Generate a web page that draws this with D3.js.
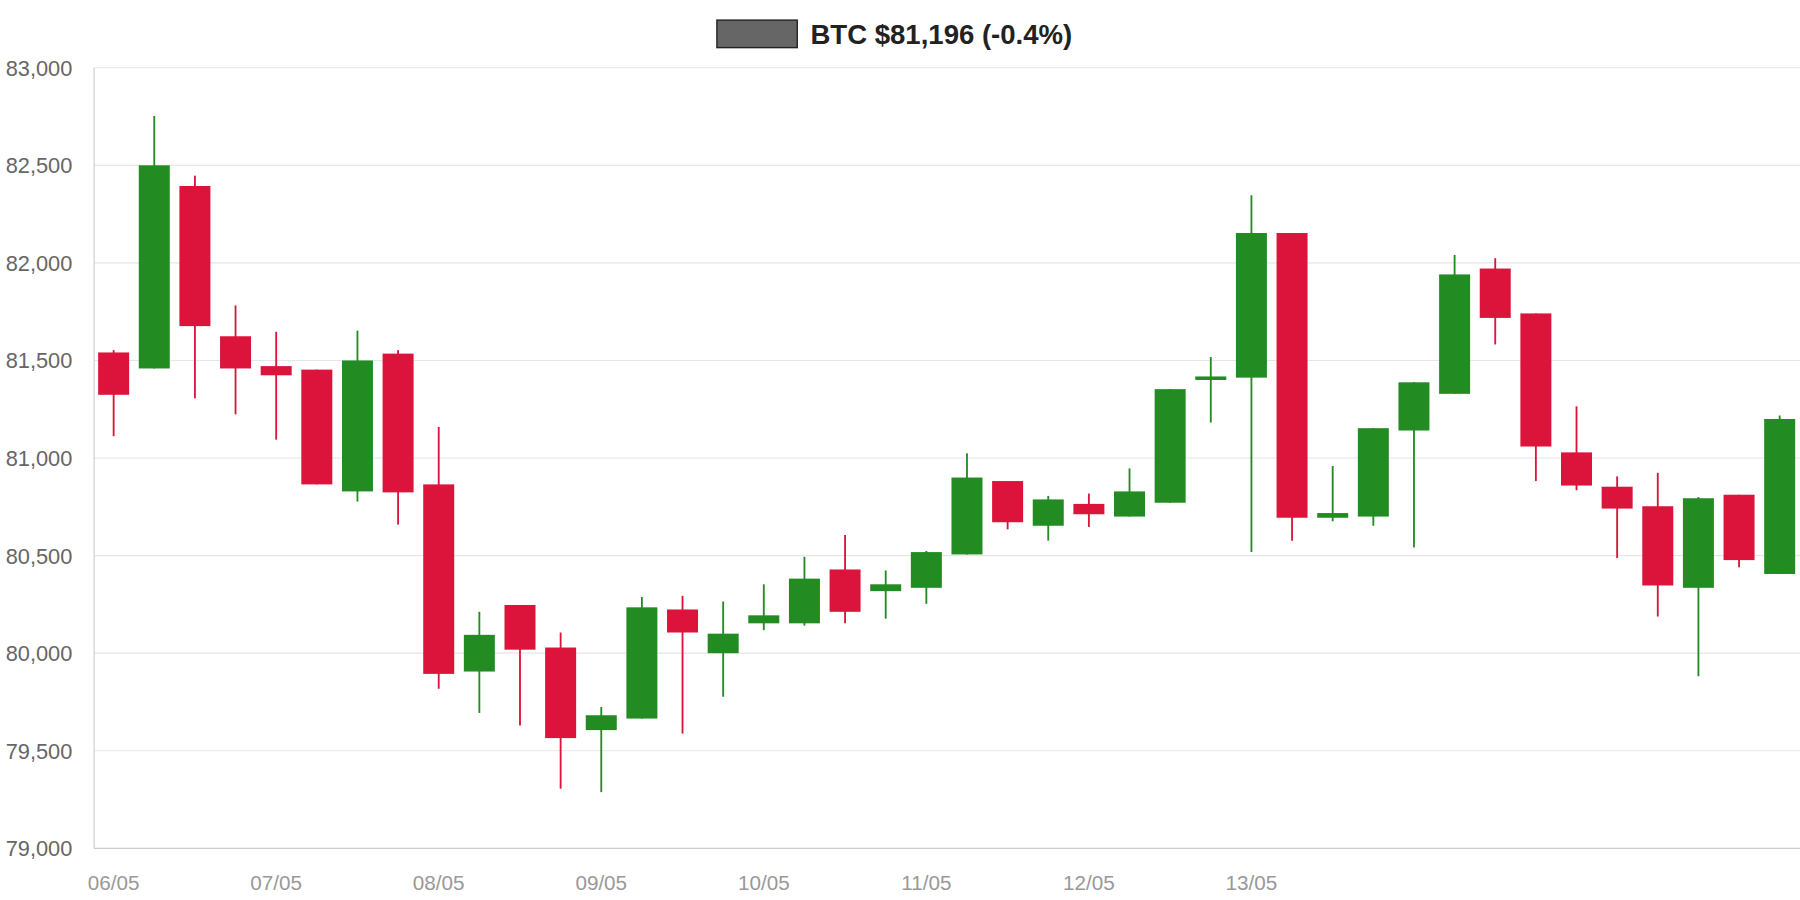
<!DOCTYPE html>
<html><head><meta charset="utf-8">
<script src="https://cdn.jsdelivr.net/npm/d3@7"></script>
<style>body{margin:0;background:#fff}svg{display:block}</style>
</head><body>
<svg id="c" width="1800" height="900" viewBox="0 0 1568 784"></svg>
<script>
const times = ["2025-05-06T00:00Z","2025-05-06T06:00Z","2025-05-06T12:00Z","2025-05-06T18:00Z",
"2025-05-07T00:00Z","2025-05-07T06:00Z","2025-05-07T12:00Z","2025-05-07T18:00Z",
"2025-05-08T00:00Z","2025-05-08T06:00Z","2025-05-08T12:00Z","2025-05-08T18:00Z",
"2025-05-09T00:00Z","2025-05-09T06:00Z","2025-05-09T12:00Z","2025-05-09T18:00Z",
"2025-05-10T00:00Z","2025-05-10T06:00Z","2025-05-10T12:00Z","2025-05-10T18:00Z",
"2025-05-11T00:00Z","2025-05-11T06:00Z","2025-05-11T12:00Z","2025-05-11T18:00Z",
"2025-05-12T00:00Z","2025-05-12T06:00Z","2025-05-12T12:00Z","2025-05-12T18:00Z",
"2025-05-13T00:00Z","2025-05-13T06:00Z","2025-05-13T12:00Z","2025-05-13T18:00Z",
"2025-05-14T00:00Z","2025-05-14T06:00Z","2025-05-14T12:00Z","2025-05-14T18:00Z",
"2025-05-15T00:00Z","2025-05-15T06:00Z","2025-05-15T12:00Z","2025-05-15T18:00Z",
"2025-05-16T00:00Z","2025-05-16T06:00Z"];
const open  = [81541,81459,82394,81624,81471,81453,80829,81535,80865,79906,80247,80029,79606,79665,80224,80000,80153,80153,80429,80318,80335,80506,80882,80653,80765,80700,80771,81400,81412,82153,80694,80700,81141,81329,81971,81741,81029,80853,80753,80335,80812,80406];
const high  = [81553,82753,82447,81782,81647,81453,81653,81553,81159,80212,80247,80106,79724,80288,80294,80265,80353,80494,80606,80424,80524,81024,80882,80806,80818,80947,81353,81518,82347,82153,80959,81153,81388,82041,82024,81741,81265,80906,80924,80800,80812,81218];
const low   = [81112,81459,81306,81224,81094,80865,80777,80659,79818,79694,79630,79306,79288,79665,79588,79777,80118,80141,80153,80177,80253,80506,80635,80577,80647,80700,80771,81182,80518,80576,80676,80653,80541,81329,81582,80882,80835,80488,80188,79882,80441,80406];
const close = [81324,82500,81676,81459,81424,80865,81500,80824,79894,80094,80018,79565,79682,80235,80106,80100,80194,80382,80212,80353,80518,80900,80671,80788,80712,80829,81353,81418,82153,80694,80718,81153,81388,81941,81718,81059,80859,80741,80347,80794,80477,81200];
const yTicks = [79000,79500,80000,80500,81000,81500,82000,82500,83000];
const xTickLabels = ["06/05","07/05","08/05","09/05","10/05","11/05","12/05","13/05"];
const xTickDates = ["2025-05-06T00:00Z","2025-05-07T00:00Z","2025-05-08T00:00Z","2025-05-09T00:00Z","2025-05-10T00:00Z","2025-05-11T00:00Z","2025-05-12T00:00Z","2025-05-13T00:00Z"];
const title = "BTC $81,196 (-0.4%)";

const svg = d3.select("#c");
const t0 = new Date(times[0]).getTime(), H = 3600e3;
const x = d3.scaleLinear().domain([t0-2.88*H, t0+249*H]).range([82,1568]);
const y = d3.scaleLinear().domain([79000,83000]).range([739,59]);
const font = "'Liberation Sans', Arial, sans-serif";

svg.append("g").selectAll("line").data(yTicks).join("line")
  .attr("x1",82).attr("x2",1568).attr("y1",d=>y(d)).attr("y2",d=>y(d))
  .attr("stroke",d=>d===79000?"#cccccc":"#e6e6e6").attr("stroke-width",1);
svg.append("line").attr("x1",82).attr("x2",82).attr("y1",59).attr("y2",739).attr("stroke","#cccccc");
svg.append("g").selectAll("text").data(yTicks).join("text")
  .attr("x",63).attr("y",d=>y(d)+7).attr("text-anchor","end")
  .attr("font-family",font).attr("font-size",19).attr("fill","#666")
  .text(d3.format(","));
svg.append("g").selectAll("text").data(xTickDates).join("text")
  .attr("x",d=>x(new Date(d).getTime())).attr("y",775).attr("text-anchor","middle")
  .attr("font-family",font).attr("font-size",18).attr("fill","#999")
  .text((d,i)=>xTickLabels[i]);

const data = times.map((t,i)=>({t:new Date(t).getTime(),o:open[i],h:high[i],l:low[i],c:close[i]}));
const col = d=>d.c>=d.o?"#228B22":"#DC143C";
const g = svg.append("g");
g.selectAll("line").data(data).join("line")
  .attr("x1",d=>x(d.t)).attr("x2",d=>x(d.t)).attr("y1",d=>y(d.h)).attr("y2",d=>y(d.l))
  .attr("stroke",col).attr("stroke-width",1.6);
g.selectAll("rect").data(data).join("rect")
  .attr("x",d=>x(d.t)-13.5).attr("width",27)
  .attr("y",d=>y(Math.max(d.o,d.c))).attr("height",d=>Math.max(2,Math.abs(y(d.o)-y(d.c))))
  .attr("fill",col);

svg.append("rect").attr("x",624.5).attr("y",17.5).attr("width",70).attr("height",24)
  .attr("fill","#666").attr("stroke","#222").attr("stroke-width",1.2);
svg.append("text").attr("x",706).attr("y",38).attr("font-family",font)
  .attr("font-size",24).attr("font-weight","bold").attr("fill","#222").text(title);
</script>
</body></html>
